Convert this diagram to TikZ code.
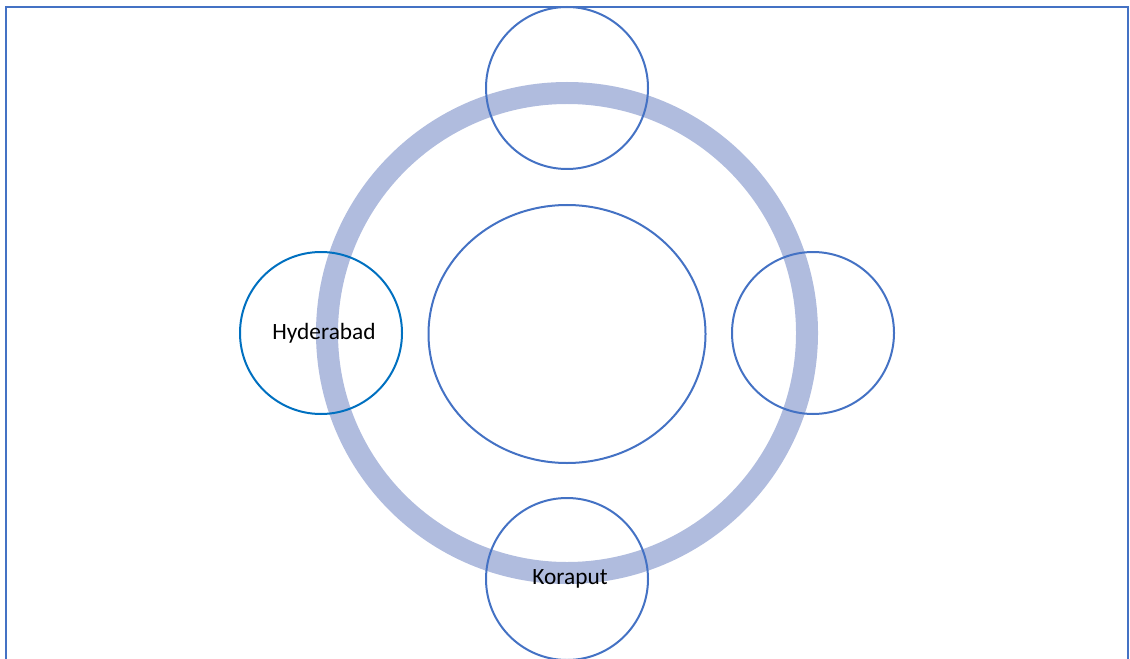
\documentclass[tikz,border=0pt]{standalone}
\usepackage{fontspec}
\setmainfont{Carlito}
\usetikzlibrary{shapes.geometric}
\definecolor{lineblue}{RGB}{68,114,196}
\definecolor{cityblue}{RGB}{0,112,192}
\definecolor{ringblue}{RGB}{176,188,222}
\begin{document}
\begin{tikzpicture}[x=0.75pt,y=-0.75pt]
    \tikzstyle{every node} = [font=\fontsize{17.5}{21}\selectfont]
    \tikzstyle{spot} = [draw=lineblue, circle, line width=1.5pt, inner sep=0pt, minimum size=121.5pt]
    \useasboundingbox (0,0) rectangle (1130,659);
    \clip (0,0) rectangle (1130,659);
    % frame
    \draw[lineblue, line width=1.5pt] (6,7) rectangle (1128,700);
    % ring
    \draw[ringblue, line width=16.5pt] (567,333) circle [radius=240];
    % place nodes
    \node[draw=lineblue, ellipse, line width=1.5pt, inner sep=0pt, minimum width=207.75pt, minimum height=193.5pt](hub) at (567,334){};
    \node[spot](north) at (567,88){};
    \node[spot,draw=cityblue](hyderabad) at (321,333){\hspace{4.5pt}\raisebox{-1.5pt}{Hyderabad}};
    \node[spot](east) at (813,333){};
    \node[spot](koraput) at (567,579){\hspace{4.5pt}\raisebox{-1pt}{Koraput}};
\end{tikzpicture}
\end{document}
